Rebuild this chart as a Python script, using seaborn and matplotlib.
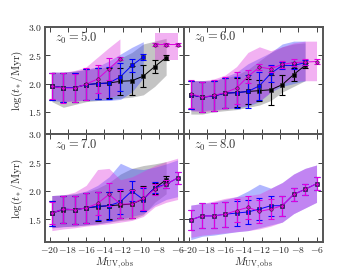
import numpy as np
import matplotlib
matplotlib.use('Agg')
import matplotlib.pyplot as plt
from matplotlib.ticker import FuncFormatter, MultipleLocator
import seaborn as sns

# bin centres in M_UV,obs
M_UV = [-19.75, -18.5, -17.25, -16.0, -14.75, -13.5, -12.25, -11.0, -9.75, -8.5, -7.25, -6.0]
nan = np.nan

# z0 = 5
Z5_BLACK = [1.95, 1.93, 1.93, 1.98, 2.00, 2.01, 2.04, 2.05, 2.13, 2.30, 2.46, nan]
Z5_BLACK_ERR = [0.24, 0.25, 0.25, 0.27, 0.27, 0.26, 0.24, 0.26, 0.19, 0.12, 0.04, nan]
Z5_BLACK_LO = [1.68, 1.58, 1.63, 1.68, 1.70, 1.72, 1.74, 1.76, 1.80, 1.95, 2.15, nan]
Z5_BLACK_HI = [2.20, 2.20, 2.22, 2.25, 2.27, 2.30, 2.45, 2.55, 2.70, 2.75, 2.80, nan]
Z5_BLUE = [1.95, 1.93, 1.93, 1.98, 2.00, 2.01, 2.12, 2.32, 2.47, nan, nan, nan]
Z5_BLUE_ERR = [0.24, 0.25, 0.25, 0.27, 0.28, 0.29, 0.25, 0.12, 0.05, nan, nan, nan]
Z5_BLUE_LO = [1.70, 1.68, 1.70, 1.70, 1.70, 1.70, 1.72, 1.85, 2.10, nan, nan, nan]
Z5_BLUE_HI = [2.20, 2.20, 2.22, 2.25, 2.30, 2.40, 2.52, 2.64, 2.74, nan, nan, nan]
Z5_MAG = [1.95, 1.92, 1.92, 1.99, 2.08, 2.26, 2.44, nan, nan, 2.69, 2.69, 2.69]
Z5_MAG_ERR = [0.23, 0.26, 0.25, 0.28, 0.25, 0.20, 0.03, nan, nan, 0.03, 0.03, 0.03]
Z5_MAG_LO = [1.73, 1.67, 1.68, 1.70, 1.72, 1.74, 1.80, nan, nan, 2.42, 2.42, 2.42]
Z5_MAG_HI = [2.20, 2.19, 2.22, 2.28, 2.45, 2.62, 2.78, nan, nan, 2.90, 2.90, 2.90]

# z0 = 6
Z6_BLACK = [1.80, 1.76, 1.78, 1.83, 1.84, 1.86, 1.875, 1.89, 1.98, 2.16, 2.32, nan]
Z6_BLACK_ERR = [0.25, 0.27, 0.27, 0.26, 0.25, 0.22, 0.18, 0.27, 0.18, 0.12, 0.04, nan]
Z6_BLACK_LO = [1.46, 1.46, 1.50, 1.52, 1.54, 1.58, 1.62, 1.70, 1.85, 1.95, 2.05, nan]
Z6_BLACK_HI = [2.05, 2.05, 2.05, 2.10, 2.15, 2.25, 2.40, 2.55, 2.65, 2.70, 2.72, nan]
Z6_BLUE = [1.80, 1.76, 1.78, 1.83, 1.84, 1.86, 1.96, 2.18, 2.32, 2.32, 2.37, nan]
Z6_BLUE_ERR = [0.25, 0.27, 0.27, 0.26, 0.27, 0.30, 0.25, 0.15, 0.06, 0.06, 0.05, nan]
Z6_BLUE_LO = [1.52, 1.52, 1.54, 1.55, 1.57, 1.60, 1.68, 1.85, 1.95, 2.00, 2.05, nan]
Z6_BLUE_HI = [2.05, 2.05, 2.05, 2.12, 2.20, 2.35, 2.45, 2.55, 2.70, 2.75, 2.75, nan]
Z6_MAG = [1.82, 1.76, 1.79, 1.84, 1.92, 2.125, 2.29, 2.26, 2.34, 2.37, 2.38, 2.39]
Z6_MAG_ERR = [0.25, 0.27, 0.27, 0.28, 0.28, 0.12, 0.05, 0.05, 0.06, 0.06, 0.05, 0.05]
Z6_MAG_LO = [1.52, 1.50, 1.52, 1.55, 1.58, 1.62, 1.70, 1.85, 2.00, 2.05, 2.05, 2.05]
Z6_MAG_HI = [2.05, 2.05, 2.08, 2.15, 2.30, 2.55, 2.65, 2.58, 2.65, 2.72, 2.75, 2.75]

# z0 = 7
Z7_BLACK = [1.61, 1.67, 1.67, 1.70, 1.725, 1.74, 1.755, 1.77, 1.86, 2.05, 2.20, nan]
Z7_BLACK_ERR = [0.22, 0.24, 0.25, 0.26, 0.25, 0.24, 0.24, 0.24, 0.22, 0.10, 0.06, nan]
Z7_BLACK_LO = [1.35, 1.37, 1.38, 1.40, 1.42, 1.45, 1.48, 1.50, 1.58, 1.80, 1.95, nan]
Z7_BLACK_HI = [1.92, 1.93, 1.95, 1.98, 2.05, 2.15, 2.30, 2.40, 2.45, 2.48, 2.52, nan]
Z7_BLUE = [1.61, 1.68, 1.67, 1.70, 1.73, 1.74, 1.81, 2.00, 1.85, 2.06, 2.12, 2.23]
Z7_BLUE_ERR = [0.22, 0.24, 0.25, 0.26, 0.25, 0.25, 0.22, 0.18, 0.20, 0.10, 0.07, 0.10]
Z7_BLUE_LO = [1.35, 1.37, 1.38, 1.40, 1.42, 1.45, 1.50, 1.55, 1.60, 1.75, 1.85, 1.90]
Z7_BLUE_HI = [1.92, 1.93, 1.95, 2.00, 2.10, 2.25, 2.49, 2.40, 2.38, 2.42, 2.48, 2.55]
Z7_MAG = [1.61, 1.68, 1.67, 1.70, 1.78, 1.94, 1.77, 1.77, 1.87, 2.03, 2.12, 2.23]
Z7_MAG_ERR = [0.20, 0.24, 0.25, 0.26, 0.20, 0.20, 0.25, 0.24, 0.20, 0.10, 0.07, 0.10]
Z7_MAG_LO = [1.30, 1.33, 1.35, 1.38, 1.40, 1.42, 1.45, 1.48, 1.55, 1.72, 1.80, 1.85]
Z7_MAG_HI = [1.92, 1.93, 1.98, 2.10, 2.38, 2.40, 2.20, 2.25, 2.35, 2.45, 2.52, 2.58]

# z0 = 8
Z8_BLUE = [1.49, 1.56, 1.56, 1.59, 1.61, 1.63, 1.68, 1.74, 1.74, 1.94, 2.03, 2.13]
Z8_BLUE_ERR = [0.18, 0.22, 0.22, 0.22, 0.22, 0.22, 0.20, 0.18, 0.18, 0.12, 0.10, 0.12]
Z8_BLUE_LO = [1.14, 1.20, 1.22, 1.25, 1.28, 1.30, 1.35, 1.40, 1.45, 1.60, 1.70, 1.80]
Z8_BLUE_HI = [1.75, 1.78, 1.80, 1.85, 1.90, 2.00, 2.12, 2.05, 2.15, 2.30, 2.40, 2.46]
Z8_MAG = [1.49, 1.56, 1.56, 1.59, 1.655, 1.71, 1.64, 1.68, 1.74, 1.94, 2.03, 2.13]
Z8_MAG_ERR = [0.18, 0.22, 0.22, 0.22, 0.20, 0.20, 0.20, 0.18, 0.18, 0.12, 0.10, 0.12]
Z8_MAG_LO = [1.18, 1.22, 1.24, 1.26, 1.28, 1.30, 1.33, 1.38, 1.45, 1.60, 1.70, 1.80]
Z8_MAG_HI = [1.75, 1.78, 1.82, 1.87, 1.90, 1.92, 1.95, 2.05, 2.15, 2.30, 2.40, 2.46]

PANELS = [
    ('5.0', [('k', Z5_BLACK, Z5_BLACK_ERR, Z5_BLACK_LO, Z5_BLACK_HI),
             ('b', Z5_BLUE, Z5_BLUE_ERR, Z5_BLUE_LO, Z5_BLUE_HI),
             ('m', Z5_MAG, Z5_MAG_ERR, Z5_MAG_LO, Z5_MAG_HI)]),
    ('6.0', [('k', Z6_BLACK, Z6_BLACK_ERR, Z6_BLACK_LO, Z6_BLACK_HI),
             ('b', Z6_BLUE, Z6_BLUE_ERR, Z6_BLUE_LO, Z6_BLUE_HI),
             ('m', Z6_MAG, Z6_MAG_ERR, Z6_MAG_LO, Z6_MAG_HI)]),
    ('7.0', [('k', Z7_BLACK, Z7_BLACK_ERR, Z7_BLACK_LO, Z7_BLACK_HI),
             ('b', Z7_BLUE, Z7_BLUE_ERR, Z7_BLUE_LO, Z7_BLUE_HI),
             ('m', Z7_MAG, Z7_MAG_ERR, Z7_MAG_LO, Z7_MAG_HI)]),
    ('8.0', [('b', Z8_BLUE, Z8_BLUE_ERR, Z8_BLUE_LO, Z8_BLUE_HI),
             ('m', Z8_MAG, Z8_MAG_ERR, Z8_MAG_LO, Z8_MAG_HI)]),
]

sns.set_style('ticks')
plt.rcParams['mathtext.fontset'] = 'cm'
plt.rcParams['font.family'] = ['DejaVu Serif']

COLORS = {'k': '#000000', 'b': '#0000ff', 'm': '#dd00dd'}
FILLS = {'k': '#666666', 'b': '#3344ff', 'm': '#dd33dd'}
MARKERS = {'k': 's', 'b': 's', 'm': 'o'}

fig, axes = plt.subplots(2, 2, figsize=(3.6, 2.7), dpi=100, sharex=True, sharey=True)
fig.subplots_adjust(left=0.125, right=0.897, top=0.9, bottom=0.104, wspace=0, hspace=0)

x = np.array(M_UV)
for ax, (z, series) in zip(axes.flat, PANELS):
    for c, y, err, lo, hi in series:
        ax.fill_between(x, lo, hi, color=FILLS[c], alpha=0.38, lw=0)
    for c, y, err, lo, hi in series:
        y = np.array(y)
        ax.errorbar(x, y, yerr=err, fmt='none', ecolor=COLORS[c], elinewidth=0.8,
                    capsize=2, capthick=0.8)
        # lines broken at missing bins
        seg = ~np.isnan(y)
        ax.plot(x, y, color=COLORS[c], lw=0.7)
        sns.lineplot(x=x[seg], y=y[seg], ax=ax, color=COLORS[c], lw=0,
                     marker=MARKERS[c], markersize=2.5, markeredgecolor='#222222',
                     markeredgewidth=0.4)
    ax.text(0.07, 0.9, r'$z_0 = %s$' % z, transform=ax.transAxes, fontsize=9,
            va='center', ha='left', color='#333333')
    ax.set_xlim(-20.5, -5.3)
    ax.set_ylim(1.1, 3.0)
    ax.xaxis.set_major_locator(MultipleLocator(2))
    ax.yaxis.set_major_locator(MultipleLocator(0.5))
    ax.xaxis.set_major_formatter(FuncFormatter(lambda v, p: r'$%d$' % round(v)))
    ax.yaxis.set_major_formatter(FuncFormatter(lambda v, p: r'$%.1f$' % v))
    ax.tick_params(direction='in', top=True, right=True, length=3.5, width=0.6,
                   labelsize=7, pad=2, colors='#222222')
    for s in ax.spines.values():
        s.set_color('#555555')
        s.set_linewidth(1.4)

for ax in axes[:, 0]:
    ax.set_ylabel(r'$\log(t_*/{\rm Myr})$', fontsize=8, labelpad=2)
for ax in axes[1, :]:
    ax.set_xlabel(r'$M_{\rm UV,obs}$', fontsize=8, labelpad=1)

fig.savefig('out.png', dpi=100)
